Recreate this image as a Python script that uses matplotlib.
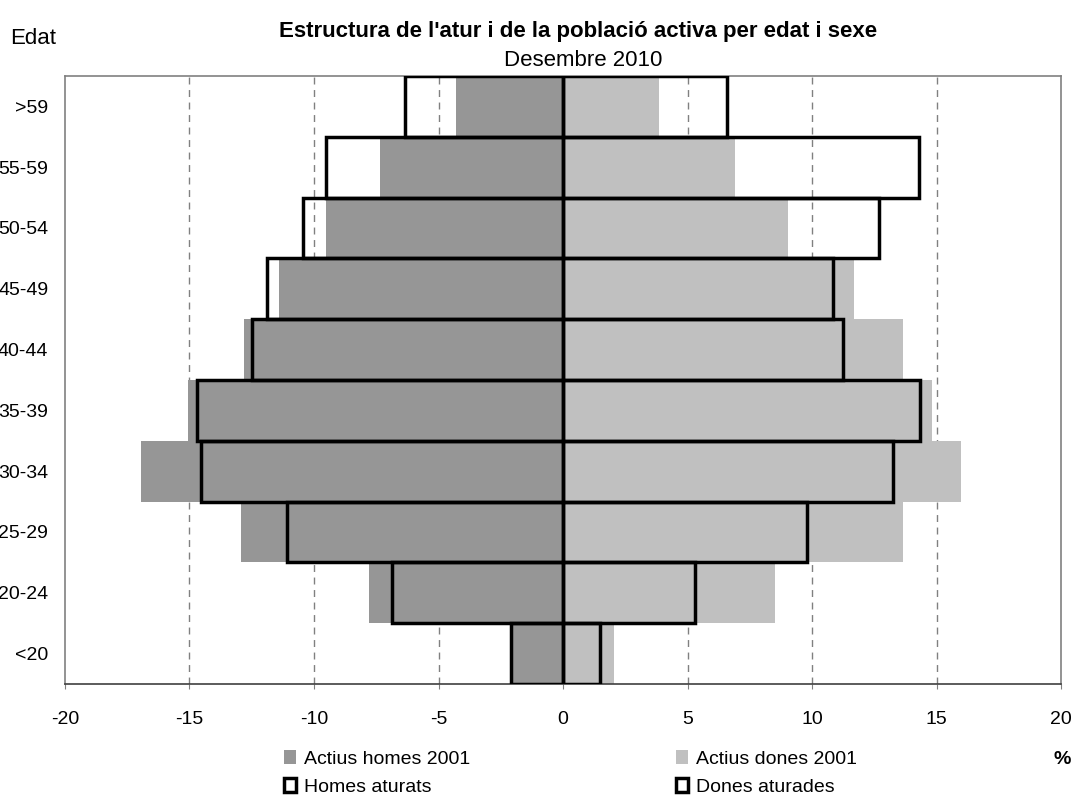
import matplotlib.pyplot as plt
import numpy as np
from matplotlib.patches import Patch

plt.rcParams['font.family'] = ['Liberation Sans', 'DejaVu Sans']
plt.rcParams['axes.unicode_minus'] = False

# Dades (percentatges)
edats = ['<20', '20-24', '25-29', '30-34', '35-39', '40-44', '45-49', '50-54', '55-59', '>59']
actius_homes_2001 = [-2.0, -7.8, -12.95, -16.95, -15.05, -12.8, -11.4, -9.5, -7.35, -4.3]
actius_dones_2001 = [2.05, 8.5, 13.65, 16.0, 14.8, 13.65, 11.7, 9.05, 6.9, 3.85]
homes_aturats = [-2.1, -6.85, -11.1, -14.55, -14.7, -12.5, -11.9, -10.45, -9.5, -6.35]
dones_aturades = [1.5, 5.3, 9.8, 13.25, 14.35, 11.25, 10.85, 12.7, 14.3, 6.6]

color_homes = '#969696'
color_dones = '#c0c0c0'

fig = plt.figure(figsize=(10.76, 7.98), dpi=100)
ax = fig.add_axes([65 / 1076, 1 - 684 / 798, 996 / 1076, 608 / 798])

y = np.arange(len(edats))
ax.barh(y, actius_homes_2001, height=1.0, color=color_homes, zorder=2)
ax.barh(y, actius_dones_2001, height=1.0, color=color_dones, zorder=2)
ax.barh(y, homes_aturats, height=1.0, facecolor='none', edgecolor='black', linewidth=2.5, zorder=3)
ax.barh(y, dones_aturades, height=1.0, facecolor='none', edgecolor='black', linewidth=2.5, zorder=3)

ax.set_xlim(-20, 20)
ax.set_ylim(-0.5, len(edats) - 0.5)
ax.set_xticks(np.arange(-20, 21, 5))
ax.set_yticks(y)
ax.set_yticklabels(edats)
ax.tick_params(axis='y', length=0, pad=12, labelsize=14)
ax.tick_params(axis='x', direction='out', length=3.6, color='#808080', pad=16, labelsize=14)

for v in [-15, -10, -5, 5, 10, 15]:
    ax.axvline(v, color='#808080', linestyle=(0, (5, 4)), linewidth=1, zorder=1)

for s in ax.spines.values():
    s.set_color('#808080')
    s.set_linewidth(1.2)
ax.spines['bottom'].set_color('#404040')

fig.text(578 / 1076, 1 - 32 / 798, "Estructura de l'atur i de la població activa per edat i sexe",
         ha='center', va='center', fontsize=16, fontweight='bold')
fig.text(583 / 1076, 1 - 60 / 798, 'Desembre 2010', ha='center', va='center', fontsize=16)
fig.text(10 / 1076, 1 - 38 / 798, 'Edat', ha='left', va='center', fontsize=16)
fig.text(1062 / 1076, 1 - 760 / 798, '%', ha='center', va='center', fontsize=14, fontweight='bold')

h1 = [Patch(facecolor=color_homes, edgecolor='none'),
      Patch(facecolor='white', edgecolor='black', linewidth=2.5)]
h2 = [Patch(facecolor=color_dones, edgecolor='none'),
      Patch(facecolor='white', edgecolor='black', linewidth=2.5)]
leg_kw = dict(loc='upper left', frameon=False, fontsize=14, handlelength=0.6, handleheight=0.7,
              handletextpad=0.45, labelspacing=0.55, borderpad=0, borderaxespad=0)
fig.legend(h1, ['Actius homes 2001', 'Homes aturats'],
           bbox_to_anchor=(284 / 1076, 1 - 750 / 798), **leg_kw)
fig.legend(h2, ['Actius dones 2001', 'Dones aturades'],
           bbox_to_anchor=(676 / 1076, 1 - 750 / 798), **leg_kw)

fig.savefig('out.png', dpi=100)
